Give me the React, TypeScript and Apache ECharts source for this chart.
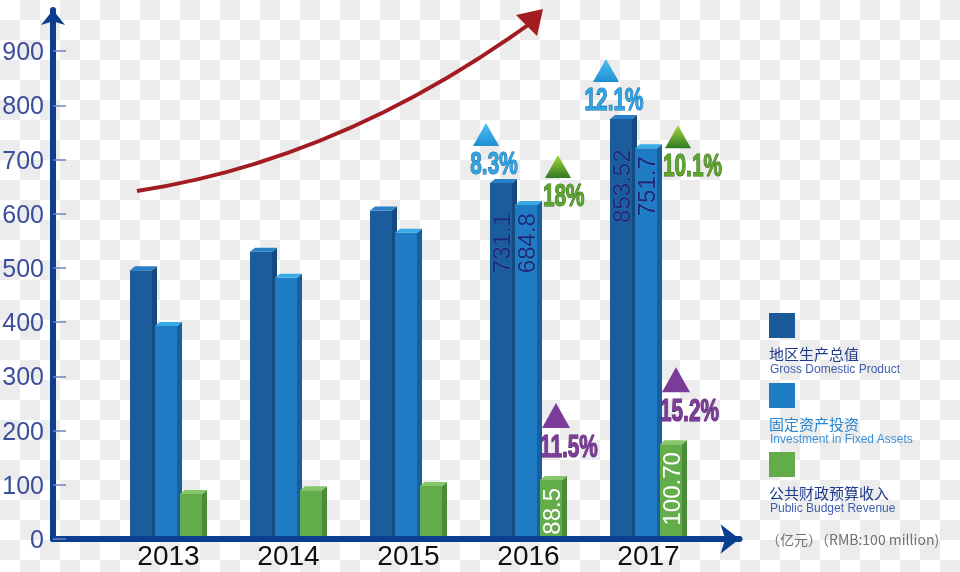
import React, { useEffect, useRef } from 'react';
import * as echarts from 'echarts';

// ---------- data ----------
const years = ['2013', '2014', '2015', '2016', '2017'];
const gdp = [496, 530, 606, 657, 775];
const fixedInvest = [393, 482, 565, 616, 721];
const budget = [83, 90, 98, 109, 175];

const gdpLabels = ['', '', '', '731.1', '853.52'];
const fixedLabels = ['', '', '', '684.8', '751.7'];
const budgetLabels = ['', '', '', '88.5', '100.70'];

const gdpGrowth = ['', '', '', '8.3%', '12.1%'];
const fixedGrowth = ['', '', '', '18%', '10.1%'];
const budgetGrowth = ['', '', '', '11.5%', '15.2%'];

const yTicks = [0, 100, 200, 300, 400, 500, 600, 700, 800, 900];

// ---------- layout / style ----------
const FRONT_W = 22;
const DEPTH_X = 5;
const DEPTH_Y = 4;
const fixedGrowthDy = [0, 0, 0, -10, 17];

const blueTri = { type: 'linear', x: 0, y: 0, x2: 0, y2: 1, colorStops: [{ offset: 0, color: '#4fc0f0' }, { offset: 1, color: '#1f8fd4' }] };
const greenTri = { type: 'linear', x: 0, y: 0, x2: 0, y2: 1, colorStops: [{ offset: 0, color: '#a6d63c' }, { offset: 1, color: '#2f7a22' }] };
const purple = '#7b3b98';

const seriesDefs = [
  { name: '地区生产总值', values: gdp, labels: gdpLabels, growth: gdpGrowth, offset: -38.5, front: '#1b5c9c', side: '#154a7e', top: '#2a80c6', labelColor: '#1e2a78', kind: 'gdp' },
  { name: '固定资产投资', values: fixedInvest, labels: fixedLabels, growth: fixedGrowth, offset: -13.5, front: '#1f7cc4', side: '#195f9e', top: '#38aae6', labelColor: '#1e2a78', kind: 'fixed' },
  { name: '公共财政预算收入', values: budget, labels: budgetLabels, growth: budgetGrowth, offset: 11.5, front: '#63ad4a', side: '#4c8b39', top: '#84c86a', labelColor: '#ffffff', kind: 'budget' },
];

function growthText(text: string, x: number, y: number, align: string, fill: any, stroke: string) {
  return {
    type: 'text', x, y, scaleX: 0.65, z2: 20,
    style: {
      text, fill, stroke, lineWidth: 1.2,
      font: 'bold 32px "Liberation Sans", Arial, sans-serif',
      align, verticalAlign: 'middle',
      shadowColor: 'rgba(0,0,0,0.35)', shadowBlur: 2, shadowOffsetX: 1, shadowOffsetY: 1,
    },
  };
}

function tri(cx: number, yTop: number, w: number, h: number, fill: any) {
  return {
    type: 'polygon', z2: 20,
    shape: { points: [[cx, yTop], [cx + w / 2, yTop + h], [cx - w / 2, yTop + h]] },
    style: { fill },
  };
}

function makeSeries(def: any) {
  return {
    type: 'custom',
    name: def.name,
    data: def.values.map((v: number, i: number) => [i, v]),
    renderItem: (params: any, api: any) => {
      const i = params.dataIndex;
      const base = api.coord([api.value(0), 0]);
      const topP = api.coord([api.value(0), api.value(1)]);
      const c = base[0];
      const x0 = c + def.offset;
      const x1 = x0 + FRONT_W;
      const yb = base[1] - 3;
      const yt = topP[1];
      const children: any[] = [
        { type: 'rect', shape: { x: x0, y: yt, width: FRONT_W, height: yb - yt }, style: { fill: def.front } },
        { type: 'polygon', shape: { points: [[x1, yt], [x1 + DEPTH_X, yt - DEPTH_Y], [x1 + DEPTH_X, yb], [x1, yb]] }, style: { fill: def.side } },
        { type: 'polygon', shape: { points: [[x0, yt], [x0 + DEPTH_X, yt - DEPTH_Y], [x1 + DEPTH_X, yt - DEPTH_Y], [x1, yt]] }, style: { fill: def.top } },
      ];
      const lbl = def.labels[i];
      if (lbl) {
        const cx = x0 + FRONT_W / 2;
        if (def.kind === 'budget') {
          children.push({ type: 'text', x: cx, y: yt + 8, rotation: Math.PI / 2, z2: 10,
            style: { text: lbl, fill: def.labelColor, font: '24px "Liberation Sans", Arial, sans-serif', align: 'right', verticalAlign: 'middle' } });
        } else {
          const fixedTop = api.coord([api.value(0), fixedInvest[i]])[1];
          children.push({ type: 'text', x: cx, y: fixedTop + 38, rotation: Math.PI / 2, z2: 10,
            style: { text: lbl, fill: def.labelColor, font: '24px "Liberation Sans", Arial, sans-serif', align: 'center', verticalAlign: 'middle',
              stroke: 'rgba(120,170,230,0.35)', lineWidth: 0.8 } });
        }
      }
      const g = def.growth[i];
      if (g) {
        if (def.kind === 'gdp') {
          const tx = x0 + FRONT_W / 2 - 7;
          const ty = yt - 20;
          children.push(tri(tx - 8, ty - 40, 26, 23, blueTri));
          children.push(growthText(g, tx, ty, 'center', '#2ea6e3', '#1a5d9c'));
        } else if (def.kind === 'fixed') {
          const tx = x1 + DEPTH_X + 1;
          const ty = yt + fixedGrowthDy[i];
          children.push(tri(tx + 15, ty - 40, 26, 23, greenTri));
          children.push(growthText(g, tx, ty, 'left', '#5ea62c', '#2c5f1a'));
        } else {
          const tx = x0;
          const ty = yt - 34;
          children.push(tri(tx + 16, ty - 43, 28, 25, purple));
          children.push(growthText(g, tx, ty, 'left', '#7d3c9a', '#4f1f66'));
        }
      }
      return { type: 'group', children };
    },
  };
}

const legendItems = [
  { cn: '地区生产总值', en: 'Gross Domestic Product', color: '#1b5a98', cnColor: '#1f3a8c', enColor: '#3f5fae', y: 313 },
  { cn: '固定资产投资', en: 'Investment in Fixed Assets', color: '#1f7dc5', cnColor: '#2a86d0', enColor: '#3a90d8', y: 383 },
  { cn: '公共财政预算收入', en: 'Public Budget Revenue', color: '#62ad4a', cnColor: '#1f3a8c', enColor: '#3f5fae', y: 452 },
];

export default function App() {
  const ref = useRef<HTMLDivElement>(null);
  useEffect(() => {
    if (!ref.current) return;
    const chart = echarts.init(ref.current, null, { renderer: 'svg' });
    const graphic: any[] = [
      { type: 'bezierCurve', shape: { x1: 137, y1: 191, x2: 528, y2: 25, cpx1: 340, cpy1: 160 }, style: { stroke: '#a31c22', lineWidth: 4, fill: null } },
      { type: 'polygon', shape: { points: [[543, 9], [516, 15], [537, 36]] }, style: { fill: '#a31c22' } },
    ];
    legendItems.forEach((it) => {
      graphic.push({ type: 'rect', shape: { x: 769, y: it.y, width: 26, height: 25 }, style: { fill: it.color } });
      graphic.push({ type: 'text', x: 769, y: it.y + 40, style: { text: it.cn, fill: it.cnColor, font: '15px "Noto Sans CJK SC", sans-serif', align: 'left', verticalAlign: 'middle' } });
      graphic.push({ type: 'text', x: 770, y: it.y + 56, style: { text: it.en, fill: it.enColor, font: '12px "Liberation Sans", Arial, sans-serif', align: 'left', verticalAlign: 'middle' } });
    });
    graphic.push({ type: 'text', x: 766, y: 539, style: { text: '（亿元）（RMB:100 million)', fill: '#707070', font: '14px "Noto Sans CJK SC", sans-serif', align: 'left', verticalAlign: 'middle' } });

    chart.setOption({
      animation: false,
      grid: { left: 53, right: 220.5, top: 10, bottom: 33, outerBoundsMode: 'none' },
      xAxis: {
        type: 'value', min: -0.9625, max: 4.7583,
        axisLine: { show: true, onZero: false, lineStyle: { color: '#0b3e8e', width: 6 }, symbol: ['none', 'arrow'], symbolSize: [22, 19] },
        axisTick: { show: false },
        splitLine: { show: false },
        axisLabel: {
          customValues: [0, 1, 2, 3, 4],
          formatter: (v: number) => years[Math.round(v)] ?? '',
          fontSize: 28, lineHeight: 28, color: '#111111', margin: 2, fontFamily: '"Liberation Sans", Arial, sans-serif',
        },
      },
      yAxis: {
        type: 'value', min: 0, max: 976,
        axisLine: { show: true, onZero: false, lineStyle: { color: '#0b3e8e', width: 6 }, symbol: ['none', 'arrow'], symbolSize: [18, 15] },
        axisTick: { show: true, inside: true, length: 13, customValues: yTicks, lineStyle: { color: '#6a84c0', width: 1.5 } },
        axisLabel: { customValues: yTicks, fontSize: 25, color: '#3b4d9c', margin: 9, fontFamily: '"Liberation Sans", Arial, sans-serif' },
        splitLine: { show: false },
      },
      series: seriesDefs.map(makeSeries),
      graphic,
    });
    return () => chart.dispose();
  }, []);
  return (
    <div
      ref={ref}
      style={{
        position: 'fixed', left: 0, top: 0, width: 960, height: 572,
        backgroundImage: 'repeating-conic-gradient(#ececec 0 25%, #ffffff 0 50%)',
        backgroundSize: '40px 40px',
      }}
    />
  );
}
